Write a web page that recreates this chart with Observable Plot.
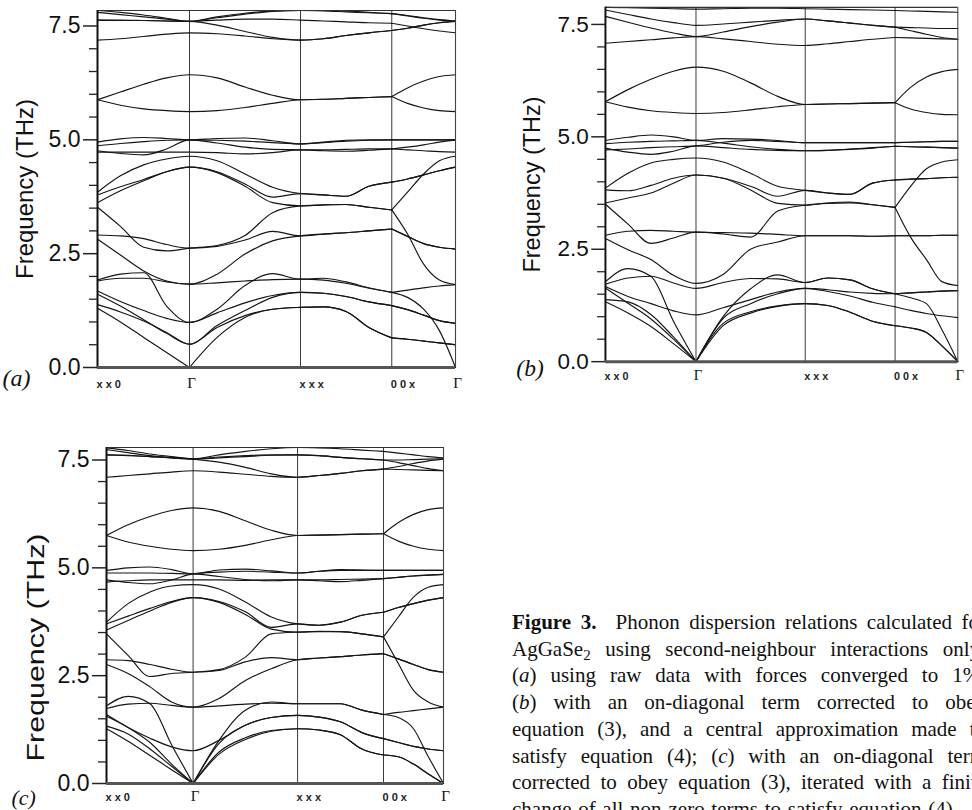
<!DOCTYPE html>
<html><head><meta charset="utf-8">
<script src="https://cdn.jsdelivr.net/npm/d3@7"></script>
<script src="https://cdn.jsdelivr.net/npm/@observablehq/plot@0.6"></script>
<style>
html,body{margin:0;padding:0;background:#fff;overflow:hidden;width:972px;height:810px;}
#root{position:relative;width:972px;height:810px;overflow:hidden;}
.panel{position:absolute;}
.caption{position:absolute;left:512px;top:609px;font-family:"Liberation Serif","Times New Roman",serif;font-size:21px;line-height:26.7px;color:#111;}
.caption div{width:474px;text-align:justify;text-align-last:justify;white-space:nowrap;}
.caption div.last{width:446px;}
.caption sub{font-size:0.72em;line-height:0;vertical-align:-0.25em;}
</style>
</head><body><div id="root">
<div class="panel" id="pa" style="left:0;top:0"></div>
<div class="panel" id="pb" style="left:510px;top:0"></div>
<div class="panel" id="pc" style="left:9px;top:437px"></div>
<div class="caption">
<div><b>Figure 3.</b>&nbsp; Phonon dispersion relations calculated for</div>
<div>AgGaSe<sub>2</sub> using second-neighbour interactions only:</div>
<div>(<i>a</i>) using raw data with forces converged to 1%;</div>
<div>(<i>b</i>) with an on-diagonal term corrected to obey</div>
<div>equation (3), and a central approximation made to</div>
<div>satisfy equation (4); (<i>c</i>) with an on-diagonal term</div>
<div>corrected to obey equation (3), iterated with a finite</div>
<div class="last">change of all non-zero terms to satisfy equation (4).</div>
</div>
</div>
<script>
// path coordinate of each sampled wave vector (xx0 -> Γ -> xxx -> 00x -> Γ)
const kGrid = [0,0.064,0.129,0.193,0.257, 0.334,0.412,0.489,0.567, 0.631,0.694,0.758,0.822, 0.866,0.911,0.955,1];
const kHigh = [0,0.257,0.567,0.822,1];
const kLabels = ["x x 0","Γ","x x x","0 0 x","Γ"];
const yMajor = [0,2.5,5,7.5];
const yMinor = [0.5,1,1.5,2,3,3.5,4,4.5,5.5,6,6.5,7];
const yTitle = "Frequency (THz)";

// panel (a) branches, THz
const bandsA = [
[7.84,7.80,7.74,7.67,7.60,7.70,7.78,7.83,7.84,7.83,7.81,7.79,7.77,7.73,7.68,7.64,7.61],
[7.80,7.75,7.70,7.65,7.60,7.63,7.65,7.65,7.63,7.61,7.59,7.57,7.56,7.50,7.44,7.39,7.35],
[7.63,7.63,7.62,7.61,7.60,7.68,7.76,7.82,7.84,7.84,7.83,7.80,7.77,7.72,7.67,7.63,7.60],
[7.63,7.62,7.62,7.61,7.60,7.52,7.38,7.25,7.19,7.22,7.29,7.35,7.40,7.45,7.52,7.57,7.60],
[7.19,7.22,7.27,7.32,7.35,7.33,7.28,7.22,7.19,7.22,7.29,7.35,7.40,7.45,7.52,7.57,7.60],
[5.88,6.05,6.22,6.36,6.43,6.36,6.16,5.98,5.88,5.89,5.91,5.93,5.95,6.14,6.29,6.39,6.43],
[5.88,5.76,5.68,5.64,5.62,5.64,5.71,5.80,5.88,5.89,5.91,5.93,5.95,5.80,5.70,5.64,5.62],
[4.95,5.02,5.05,5.03,5.00,5.03,5.04,4.98,4.91,4.95,4.99,5.00,5.00,5.00,5.00,5.00,5.00],
[4.87,4.92,4.96,4.99,5.00,4.93,4.84,4.79,4.78,4.78,4.79,4.80,4.80,4.84,4.89,4.95,5.00],
[4.76,4.70,4.67,4.80,5.00,4.99,4.97,4.94,4.91,4.94,4.97,4.99,5.00,5.00,5.00,5.00,5.00],
[4.73,4.73,4.73,4.73,4.73,4.72,4.69,4.72,4.78,4.76,4.75,4.77,4.80,4.78,4.76,4.74,4.73],
[3.85,4.21,4.45,4.58,4.64,4.54,4.25,3.96,3.82,3.79,3.76,3.98,4.07,4.14,4.23,4.32,4.40],
[3.79,3.97,4.13,4.30,4.40,4.30,4.03,3.74,3.82,3.79,3.76,3.98,4.07,4.14,4.23,4.32,4.40],
[3.62,3.88,4.10,4.30,4.40,4.28,3.98,3.62,3.55,3.57,3.58,3.52,3.46,3.85,4.25,4.54,4.64],
[3.52,3.10,2.64,2.56,2.62,2.68,2.90,3.40,3.55,3.57,3.58,3.52,3.46,2.93,2.27,1.92,1.82],
[2.91,2.89,2.83,2.70,2.62,2.66,2.80,2.99,2.89,2.93,2.96,3.00,3.04,2.88,2.72,2.64,2.60],
[2.82,2.47,2.12,1.90,1.83,2.05,2.49,2.78,2.89,2.93,2.96,3.00,3.04,2.88,2.72,2.64,2.60],
[1.92,2.05,2.08,1.35,0.99,1.28,1.80,2.06,1.94,1.96,1.88,1.75,1.65,1.70,1.75,1.79,1.82],
[1.90,1.96,1.96,1.88,1.83,1.86,1.90,1.93,1.94,1.92,1.85,1.74,1.65,1.54,1.28,0.81,0.00],
[1.68,1.45,1.25,1.08,0.99,1.20,1.42,1.58,1.65,1.63,1.56,1.44,1.36,1.27,1.15,1.03,0.97],
[1.61,1.35,1.05,0.75,0.51,0.92,1.25,1.54,1.65,1.63,1.56,1.44,1.36,1.27,1.15,1.03,0.97],
[1.38,1.22,1.02,0.77,0.51,0.88,1.14,1.28,1.32,1.33,1.23,0.88,0.65,0.62,0.58,0.54,0.50],
[1.30,1.00,0.66,0.33,0.00,0.66,1.10,1.28,1.32,1.33,1.23,0.88,0.65,0.62,0.58,0.54,0.50]
];

// panel (b) branches, THz
const bandsB = [
[7.88,7.87,7.86,7.85,7.84,7.85,7.86,7.86,7.85,7.84,7.83,7.82,7.81,7.80,7.79,7.78,7.77],
[7.82,7.72,7.62,7.54,7.48,7.51,7.55,7.59,7.62,7.58,7.53,7.48,7.44,7.43,7.42,7.41,7.41],
[7.68,7.55,7.42,7.31,7.23,7.33,7.45,7.55,7.62,7.58,7.53,7.48,7.44,7.36,7.28,7.21,7.17],
[7.08,7.12,7.16,7.20,7.23,7.18,7.12,7.06,7.03,7.07,7.12,7.17,7.21,7.20,7.19,7.18,7.17],
[5.78,6.05,6.28,6.46,6.55,6.46,6.20,5.90,5.72,5.73,5.74,5.75,5.76,6.10,6.33,6.45,6.50],
[5.78,5.66,5.58,5.54,5.52,5.54,5.60,5.67,5.72,5.73,5.74,5.75,5.76,5.62,5.54,5.50,5.49],
[4.92,4.99,5.04,5.00,4.92,4.96,4.95,4.92,4.87,4.87,4.87,4.87,4.87,4.88,4.89,4.90,4.90],
[4.85,4.88,4.90,4.91,4.92,4.86,4.78,4.72,4.69,4.70,4.72,4.75,4.79,4.78,4.77,4.76,4.75],
[4.75,4.66,4.61,4.68,4.80,4.76,4.72,4.70,4.69,4.70,4.73,4.76,4.79,4.78,4.77,4.76,4.75],
[4.71,4.73,4.76,4.78,4.80,4.88,4.92,4.90,4.87,4.87,4.87,4.87,4.87,4.88,4.89,4.90,4.90],
[3.86,4.19,4.42,4.50,4.53,4.44,4.19,3.90,3.81,3.75,3.72,3.97,4.04,4.06,4.07,4.09,4.10],
[3.82,3.80,3.92,4.08,4.15,4.08,3.90,3.68,3.81,3.75,3.72,3.97,4.04,4.06,4.07,4.09,4.10],
[3.53,3.64,3.75,3.97,4.15,4.08,3.82,3.52,3.48,3.53,3.55,3.49,3.43,3.90,4.29,4.44,4.49],
[3.50,3.06,2.63,2.75,2.88,2.84,2.77,3.35,3.48,3.52,3.53,3.49,3.43,2.77,2.27,1.78,1.69],
[2.81,2.90,2.92,2.90,2.88,2.87,2.86,2.83,2.80,2.80,2.80,2.79,2.80,2.80,2.80,2.81,2.81],
[2.74,2.49,2.27,1.92,1.74,1.94,2.50,2.66,2.80,2.80,2.80,2.79,2.80,2.80,2.80,2.81,2.81],
[1.78,2.07,1.90,0.90,0.00,1.00,1.62,1.93,1.76,1.86,1.82,1.62,1.51,1.53,1.55,1.57,1.58],
[1.72,1.86,1.90,1.75,1.63,1.76,1.85,1.84,1.76,1.86,1.82,1.62,1.51,1.53,1.55,1.57,1.58],
[1.67,1.45,1.29,1.13,1.04,1.20,1.38,1.55,1.63,1.56,1.46,1.32,1.22,1.14,1.07,1.02,0.98],
[1.64,1.30,0.95,0.50,0.00,0.96,1.29,1.51,1.63,1.60,1.55,1.52,1.51,1.42,1.29,0.71,0.00],
[1.38,1.33,1.05,0.55,0.00,0.80,1.08,1.23,1.29,1.25,1.10,0.90,0.80,0.75,0.65,0.35,0.00],
[1.33,1.08,0.78,0.40,0.00,0.85,1.11,1.24,1.29,1.25,1.10,0.90,0.80,0.75,0.65,0.35,0.00]
];

// panel (c) branches, THz
const bandsC = [
[7.78,7.72,7.64,7.58,7.53,7.62,7.70,7.76,7.79,7.78,7.76,7.73,7.70,7.66,7.62,7.58,7.55],
[7.74,7.67,7.60,7.55,7.52,7.55,7.58,7.61,7.62,7.60,7.56,7.53,7.50,7.50,7.51,7.52,7.53],
[7.62,7.60,7.58,7.55,7.52,7.45,7.33,7.18,7.10,7.14,7.19,7.25,7.29,7.35,7.42,7.48,7.52],
[7.10,7.14,7.18,7.22,7.25,7.22,7.17,7.12,7.10,7.14,7.19,7.25,7.29,7.28,7.27,7.26,7.25],
[7.62,7.61,7.58,7.56,7.53,7.57,7.60,7.62,7.62,7.60,7.56,7.53,7.50,7.44,7.37,7.30,7.25],
[5.75,6.00,6.19,6.33,6.39,6.31,6.09,5.87,5.75,5.76,5.77,5.78,5.79,6.05,6.24,6.35,6.39],
[5.75,5.60,5.50,5.43,5.40,5.43,5.52,5.65,5.75,5.76,5.77,5.78,5.79,5.62,5.50,5.43,5.40],
[4.94,5.00,5.02,4.96,4.86,4.95,4.97,4.93,4.88,4.92,4.96,4.95,4.94,4.94,4.94,4.94,4.94],
[4.88,4.88,4.88,4.87,4.86,4.80,4.73,4.70,4.72,4.70,4.68,4.71,4.75,4.78,4.81,4.83,4.85],
[4.72,4.66,4.63,4.72,4.86,4.90,4.92,4.90,4.88,4.92,4.94,4.94,4.94,4.94,4.94,4.94,4.94],
[4.67,4.70,4.72,4.72,4.72,4.72,4.71,4.72,4.72,4.72,4.73,4.74,4.75,4.78,4.81,4.83,4.85],
[3.74,4.17,4.44,4.58,4.61,4.51,4.21,3.86,3.70,3.67,3.74,3.90,3.97,4.08,4.17,4.25,4.31],
[3.70,3.88,4.06,4.22,4.31,4.22,3.98,3.62,3.70,3.67,3.74,3.90,3.97,4.08,4.17,4.25,4.31],
[3.56,3.78,4.00,4.20,4.31,4.20,3.92,3.58,3.51,3.53,3.52,3.47,3.40,3.86,4.32,4.55,4.61],
[3.47,2.97,2.48,2.55,2.58,2.64,2.93,3.47,3.51,3.52,3.52,3.47,3.40,2.78,2.16,1.89,1.77],
[2.87,2.85,2.76,2.65,2.58,2.62,2.82,2.92,2.87,2.91,2.94,2.98,3.01,2.89,2.76,2.64,2.58],
[2.76,2.55,2.24,1.89,1.77,1.97,2.39,2.66,2.87,2.91,2.94,2.98,3.01,2.89,2.76,2.64,2.58],
[1.80,2.02,1.85,0.90,0.00,1.00,1.70,1.89,1.85,1.85,1.85,1.70,1.60,1.65,1.69,1.73,1.77],
[1.74,1.84,1.86,1.81,1.77,1.80,1.84,1.86,1.85,1.85,1.85,1.70,1.60,1.53,1.27,0.62,0.00],
[1.60,1.30,1.05,0.85,0.76,1.00,1.35,1.53,1.58,1.54,1.43,1.18,1.04,0.95,0.86,0.80,0.76],
[1.56,1.30,0.95,0.45,0.00,0.93,1.35,1.53,1.58,1.54,1.43,1.18,1.04,0.95,0.86,0.80,0.76],
[1.33,1.15,0.80,0.40,0.00,0.68,1.02,1.21,1.27,1.24,1.13,0.80,0.66,0.62,0.45,0.22,0.00],
[1.27,0.98,0.65,0.32,0.00,0.73,1.06,1.23,1.27,1.24,1.13,0.80,0.66,0.62,0.45,0.22,0.00]
];

const SANS = "'Liberation Sans', Arial, Helvetica, sans-serif";
const SERIF = "'Liberation Serif', 'Times New Roman', serif";

function toRows(bands) {
  const rows = [];
  bands.forEach((b, bi) => {
    let piece = 0;
    b.forEach((f, i) => {
      rows.push({k: kGrid[i], f, z: bi + "-" + piece});
      const cut = (i === 12) || (i === 4 && f < 0.1);
      if (cut) { piece++; rows.push({k: kGrid[i], f, z: bi + "-" + piece}); }
    });
  });
  return rows;
}

function panel(cfg) {
  const {bands, yMax, width, height, ml, mr, mt, mb, tag, titleDx, titleDy, xLabDy, tagDx, tagDy, tagSize} = cfg;
  const rows = toRows(bands);
  const sansLab = kLabels.map((t, i) => ({t, k: kHigh[i]})).filter(d => d.t !== "Γ");
  const gamLab = kLabels.map((t, i) => ({t, k: kHigh[i]})).filter(d => d.t === "Γ");
  const svg = Plot.plot({
    width, height, marginLeft: ml, marginRight: mr, marginTop: mt, marginBottom: mb,
    x: {domain: [0, 1], axis: null},
    y: {domain: [0, yMax], axis: null},
    style: {background: "transparent", overflow: "visible"},
    marks: [
      Plot.ruleX(kHigh.slice(1, 4), {stroke: "#222", strokeWidth: 0.9}),
      Plot.line(rows, {x: "k", y: "f", z: "z", curve: "monotone-x", stroke: "#151515", strokeWidth: 1.15}),
      Plot.ruleY([yMax], {stroke: "#333", strokeWidth: 1.1}),
      Plot.ruleX([1], {stroke: "#444", strokeWidth: 1.1}),
      Plot.ruleX([0], {stroke: "#111", strokeWidth: 2}),
      Plot.ruleY([0], {stroke: "#555", strokeWidth: 3}),
      Plot.axisY(yMinor, {anchor: "left", tickSize: 8, tickFormat: () => "", stroke: "#222", strokeWidth: 1.3, label: null}),
      Plot.axisY(yMajor, {anchor: "left", tickSize: 14, tickPadding: 3, tickFormat: d => d.toFixed(1),
        fontSize: 23, fontFamily: SANS, fill: "#111", stroke: "#222", strokeWidth: 1.5, label: null}),
      Plot.text([yTitle], {frameAnchor: "left", textAnchor: "middle", dx: titleDx, dy: titleDy, rotate: -90,
        fontSize: 24, fontFamily: SANS, fill: "#111"}),
      Plot.text(sansLab, {x: "k", text: "t", frameAnchor: "bottom", dy: xLabDy, textAnchor: "start", dx: -1,
        fontSize: 11, fontWeight: "bold", fontFamily: SANS, fill: "#222"}),
      Plot.text(gamLab, {x: "k", text: "t", frameAnchor: "bottom", dy: xLabDy, dx: 2,
        fontSize: 15, fontFamily: SERIF, fill: "#111"}),
      Plot.text([tag], {frameAnchor: "bottom-left", textAnchor: "start", dx: tagDx, dy: tagDy, fontSize: tagSize,
        fontStyle: "italic", fontFamily: SERIF, fill: "#111"})
    ]
  });
  return svg;
}

const svgA = panel({bands: bandsA, yMax: 7.84, width: 470, height: 400, ml: 97, mr: 15, mt: 10, mb: 33,
  tag: "(a)", titleDx: -72, titleDy: 0, xLabDy: 20, tagDx: -95, tagDy: 18, tagSize: 24});
const svgB = panel({bands: bandsB, yMax: 7.88, width: 472, height: 400, ml: 97, mr: 15, mt: 7, mb: 31,
  tag: "(b)", titleDx: -75, titleDy: 0, xLabDy: 19, tagDx: -91, tagDy: 15, tagSize: 24});
const svgC = panel({bands: bandsC, yMax: 7.79, width: 470, height: 373, ml: 97, mr: 36, mt: 10, mb: 27,
  tag: "(c)", titleDx: -70, titleDy: 32, xLabDy: 17, tagDx: -95, tagDy: 21, tagSize: 22});
document.getElementById("pa").appendChild(svgA);
document.getElementById("pb").appendChild(svgB);
document.getElementById("pc").appendChild(svgC);
d3.select(svgC).selectAll("text").filter(function() { return this.textContent === yTitle; })
  .attr("textLength", 228).attr("lengthAdjust", "spacingAndGlyphs");
</script>
</body></html>
